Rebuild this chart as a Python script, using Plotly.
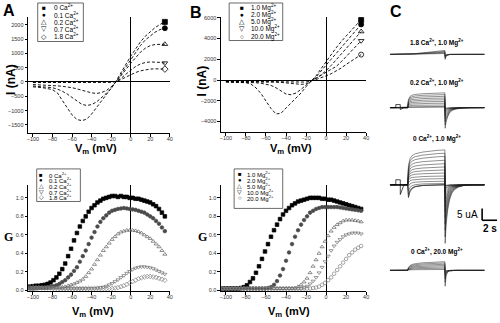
import plotly.graph_objects as go

W, H = 500, 323
def px(x): return x / W
def py(y): return 1 - y / H

# ---------------- Panel A: I-V, Ca series ----------------
A_V = [-100, -95, -90, -85, -80, -75, -70, -65, -60, -55, -50, -45, -40, -35, -30,
       -25, -20, -15, -10, -5, 0, 5, 10, 15, 20, 25, 30, 35]
A_names = ["0 Ca<sup>2+</sup>", "0.1 Ca<sup>2+</sup>", "0.2 Ca<sup>2+</sup>", "0.7 Ca<sup>2+</sup>", "1.8 Ca<sup>2+</sup>"]
A_ca0 = [-170, -180, -200, -230, -270, -380, -620, -900, -1150, -1310, -1350, -1300, -1120, -900, -650,
         -420, -220, 30, 330, 620, 900, 1150, 1400, 1600, 1750, 1900, 2010, 2100]
A_ca01 = [-140, -150, -160, -175, -200, -250, -320, -420, -550, -680, -780, -820, -790, -700, -560,
          -400, -230, 0, 250, 520, 780, 1030, 1270, 1470, 1620, 1740, 1830, 1880]
A_ca02 = [-90, -95, -100, -110, -120, -135, -150, -170, -200, -240, -290, -340, -380, -400, -370,
          -300, -170, 0, 200, 430, 650, 860, 1040, 1180, 1270, 1310, 1320, 1320]
A_ca07 = [-20, -20, -20, -20, -20, -20, -20, -20, -20, -20, -20, -20, -20, -20, -20,
          -15, -10, 20, 120, 270, 420, 540, 630, 680, 700, 700, 685, 660]
A_ca18 = [-10, -10, -10, -10, -10, -10, -10, -10, -10, -10, -10, -10, -10, -10, -10,
          -5, 0, 20, 80, 170, 260, 330, 390, 430, 450, 460, 460, 450]
A_series = [A_ca0, A_ca01, A_ca02, A_ca07, A_ca18]

# ---------------- Panel B: I-V, Mg series ----------------
B_V = A_V
B_names = ["1.0 Mg<sup>2+</sup>", "2.0 Mg<sup>2+</sup>", "5.0 Mg<sup>2+</sup>", "10.0 Mg<sup>2+</sup>", "20.0 Mg<sup>2+</sup>"]
B_mg1 = [-190, -200, -210, -230, -260, -400, -760, -1300, -2000, -2750, -3270, -3200, -2700, -2200, -1800,
         -1250, -650, -120, 400, 1100, 1800, 2450, 3100, 3700, 4250, 4800, 5300, 5780]
B_mg2 = [-190, -190, -200, -200, -210, -230, -260, -310, -380, -520, -750, -1050, -1350, -1420, -1250,
         -900, -450, -80, 300, 900, 1500, 2000, 2550, 3150, 3700, 4250, 4800, 5360]
B_mg5 = [-150, -150, -150, -150, -150, -155, -160, -165, -170, -180, -200, -230, -270, -320, -380,
         -420, -380, -150, 150, 500, 900, 1400, 1950, 2500, 3050, 3600, 4130, 4670]
B_mg10 = [-130, -130, -130, -130, -130, -130, -135, -135, -140, -140, -145, -150, -160, -170, -190,
          -200, -200, -80, 150, 450, 750, 1000, 1300, 1750, 2250, 2800, 3300, 3780]
B_mg20 = [-100, -100, -100, -100, -100, -100, -100, -100, -105, -105, -105, -110, -110, -115, -120,
          -120, -120, -50, 50, 200, 400, 600, 850, 1150, 1500, 1800, 2130, 2450]
B_series = [B_mg1, B_mg2, B_mg5, B_mg10, B_mg20]

# ---------------- Panels D/E: G-V ----------------
G_V = [-103, -100, -97, -94, -91, -88, -85, -82, -79, -76, -73, -70, -67, -64, -61, -58,
       -55, -52, -49, -46, -43, -40, -37, -34, -31, -28, -25, -22, -19, -16, -13, -10,
       -7, -4, -1, 2, 5, 8, 11, 14, 17, 20, 23, 26, 29, 32, 35]
D_ca0 = [0.04, 0.045, 0.05, 0.05, 0.055, 0.06, 0.07, 0.085, 0.11, 0.14, 0.18, 0.23, 0.29, 0.37, 0.45, 0.54,
         0.62, 0.69, 0.75, 0.80, 0.85, 0.89, 0.92, 0.95, 0.97, 0.99, 1.0, 1.01, 1.02, 1.02, 1.01, 1.02,
         1.01, 1.01, 1.0, 1.0, 0.99, 0.99, 0.98, 0.97, 0.96, 0.95, 0.93, 0.91, 0.88, 0.84, 0.80]
D_ca01 = [0.02, 0.02, 0.025, 0.025, 0.03, 0.03, 0.035, 0.04, 0.045, 0.055, 0.07, 0.09, 0.11, 0.14, 0.17, 0.21,
          0.25, 0.31, 0.37, 0.43, 0.50, 0.57, 0.63, 0.69, 0.74, 0.78, 0.81, 0.84, 0.86, 0.87, 0.88, 0.885,
          0.89, 0.885, 0.88, 0.875, 0.87, 0.86, 0.85, 0.84, 0.82, 0.80, 0.78, 0.75, 0.72, 0.68, 0.64]
D_ca02 = [0.015, 0.015, 0.015, 0.02, 0.02, 0.02, 0.02, 0.025, 0.025, 0.03, 0.03, 0.035, 0.04, 0.05, 0.06, 0.07,
          0.085, 0.10, 0.12, 0.15, 0.19, 0.23, 0.28, 0.33, 0.38, 0.43, 0.47, 0.51, 0.55, 0.58, 0.61, 0.63,
          0.64, 0.65, 0.65, 0.65, 0.645, 0.635, 0.62, 0.60, 0.58, 0.56, 0.53, 0.50, 0.47, 0.43, 0.39]
D_ca07 = [0.03, 0.03, 0.03, 0.03, 0.03, 0.025, 0.025, 0.025, 0.025, 0.025, 0.02, 0.02, 0.02, 0.02, 0.02, 0.02,
          0.02, 0.02, 0.02, 0.02, 0.02, 0.02, 0.02, 0.025, 0.03, 0.035, 0.045, 0.06, 0.075, 0.095, 0.115, 0.14,
          0.16, 0.185, 0.205, 0.225, 0.24, 0.25, 0.255, 0.255, 0.25, 0.245, 0.235, 0.22, 0.205, 0.19, 0.175]
D_ca18 = [0.03, 0.03, 0.03, 0.03, 0.025, 0.025, 0.025, 0.025, 0.02, 0.02, 0.02, 0.02, 0.02, 0.02, 0.02, 0.02,
          0.02, 0.02, 0.02, 0.02, 0.02, 0.02, 0.02, 0.02, 0.02, 0.02, 0.02, 0.02, 0.02, 0.025, 0.03, 0.04,
          0.05, 0.065, 0.08, 0.095, 0.11, 0.125, 0.135, 0.145, 0.15, 0.15, 0.145, 0.14, 0.13, 0.12, 0.11]
D_series = [D_ca0, D_ca01, D_ca02, D_ca07, D_ca18]

E_mg1 = [0.02, 0.02, 0.02, 0.02, 0.02, 0.02, 0.025, 0.035, 0.055, 0.09, 0.13, 0.19, 0.26, 0.34, 0.42, 0.50,
         0.58, 0.65, 0.71, 0.77, 0.82, 0.86, 0.89, 0.92, 0.94, 0.96, 0.97, 0.98, 0.99, 1.0, 1.0, 1.0,
         1.0, 0.99, 0.99, 0.98, 0.98, 0.97, 0.96, 0.95, 0.94, 0.93, 0.92, 0.91, 0.90, 0.89, 0.88]
E_mg2 = [0.02, 0.02, 0.02, 0.02, 0.02, 0.02, 0.02, 0.02, 0.02, 0.02, 0.02, 0.02, 0.02, 0.02, 0.02, 0.025,
         0.035, 0.06, 0.10, 0.16, 0.23, 0.32, 0.41, 0.50, 0.58, 0.65, 0.71, 0.76, 0.80, 0.84, 0.86, 0.88,
         0.89, 0.90, 0.90, 0.90, 0.90, 0.90, 0.90, 0.895, 0.89, 0.885, 0.88, 0.875, 0.87, 0.865, 0.86]
E_mg5 = [0.02, 0.02, 0.02, 0.02, 0.02, 0.02, 0.02, 0.02, 0.02, 0.02, 0.02, 0.02, 0.02, 0.02, 0.02, 0.02,
         0.02, 0.02, 0.02, 0.02, 0.02, 0.02, 0.02, 0.02, 0.025, 0.04, 0.06, 0.09, 0.13, 0.19, 0.26, 0.33,
         0.40, 0.47, 0.53, 0.59, 0.64, 0.68, 0.71, 0.73, 0.75, 0.76, 0.76, 0.76, 0.755, 0.75, 0.74]
E_mg10 = [0.02, 0.02, 0.02, 0.02, 0.02, 0.02, 0.02, 0.02, 0.02, 0.02, 0.02, 0.02, 0.02, 0.02, 0.02, 0.02,
          0.02, 0.02, 0.02, 0.02, 0.02, 0.02, 0.02, 0.02, 0.02, 0.02, 0.02, 0.03, 0.045, 0.07, 0.10, 0.14,
          0.19, 0.25, 0.31, 0.37, 0.43, 0.48, 0.52, 0.55, 0.58, 0.60, 0.61, 0.62, 0.62, 0.62, 0.61]
E_mg20 = [0.02, 0.02, 0.02, 0.02, 0.02, 0.02, 0.02, 0.02, 0.02, 0.02, 0.02, 0.02, 0.02, 0.02, 0.02, 0.02,
          0.02, 0.02, 0.02, 0.02, 0.02, 0.02, 0.02, 0.02, 0.02, 0.02, 0.02, 0.02, 0.02, 0.02, 0.025, 0.03,
          0.04, 0.06, 0.08, 0.11, 0.14, 0.18, 0.22, 0.26, 0.30, 0.34, 0.38, 0.41, 0.44, 0.46, 0.48]
E_series = [E_mg1, E_mg2, E_mg5, E_mg10, E_mg20]

# ---------------- Panel C: current traces ----------------
RISE_T = [0.0, 0.1, 0.3, 0.6, 1.0, 2.0, 3.0, 4.0, 5.0]
RISE_FAST = [0, 0.55, 0.75, 0.84, 0.89, 0.94, 0.97, 0.99, 1.0]
RISE_SLOW = [0, 0.35, 0.55, 0.68, 0.77, 0.87, 0.93, 0.97, 1.0]
RISE_RAMP = [0, 0.02, 0.06, 0.12, 0.2, 0.4, 0.6, 0.8, 1.0]
DIP_F = [0, 1.0, 0.55, 0.3, 0.16, 0.06, 0.03, 0.01, 0]
TAIL_T = [0.0, 0.03, 0.15, 0.35, 0.6, 0.9, 1.3, 1.8, 2.5, 3.5]
TAIL_SLOW = [0, 1.0, 0.7, 0.45, 0.27, 0.15, 0.08, 0.04, 0.015, 0]
TAIL_FAST = [0, 1.0, 0.35, 0.12, 0.04, 0.01, 0, 0, 0, 0]
C_groups = [
    dict(label="1.8 Ca<sup>2+</sup>, 1.0 Mg<sup>2+</sup>", base=-24.1, rise=RISE_RAMP, tail=TAIL_FAST,
         amps=[1.8, 1.4, 1.0, 0.7, 0.4], dips=[0, 0, 0, 0, 0], tails=[2.3, 1.8, 1.3, 0.9, 0.5]),
    dict(label="0.2 Ca<sup>2+</sup>, 1.0 Mg<sup>2+</sup>", base=-48.6, rise=RISE_FAST, tail=TAIL_SLOW,
         amps=[6.8, 6.0, 5.2, 4.4, 3.6, 2.8, 2.0, 1.2, 0.5, 0.2], dips=[0] * 10,
         tails=[9.5, 8.0, 6.5, 5.2, 4.0, 3.0, 2.0, 1.2, 0.6, 0.3]),
    dict(label="0 Ca<sup>2+</sup>, 1.0 Mg<sup>2+</sup>", base=-84.1, rise=RISE_FAST, tail=TAIL_SLOW,
         amps=[16, 14.5, 13, 11.3, 9.7, 8.2, 6.8, 5.4, 4.0, 2.8, 1.6, 0.6, 0, 0, 0],
         dips=[0, 0, 0, 0, 0, 0, 0, 0, 0, 0.5, 1.5, 3, 4.5, 5.5, 6],
         tails=[27, 24, 21, 18, 15, 12.5, 10, 8, 6, 4.5, 3, 2, 1, 0.5, 0.3]),
    dict(label="0 Ca<sup>2+</sup>, 20.0 Mg<sup>2+</sup>", base=-123.5, rise=RISE_SLOW, tail=TAIL_FAST,
         amps=[4.0, 3.4, 2.8, 2.2, 1.6, 1.0, 0.4], dips=[0] * 7,
         tails=[7.3, 5.5, 4.0, 2.8, 1.8, 1.0, 0.4]),
]
PRE_T = [0.15, 0.8, 0.8, 1.4, 1.4, 1.9, 2.4]
PRE_G2 = [0, 0, 1.4, 1.4, -0.9, 0, 0]
PRE_G3 = [0, 0, 2.3, 2.3, -4.5, 0, 0]
T_ON, T_OFF, T_END = 2.4, 7.4, 12.7

# ---------------- styling ----------------
SYM_A = ["square", "circle", "triangle-up-open", "triangle-down-open", "diamond-open"]
SYM_B = ["square", "circle", "triangle-up-open", "triangle-down-open", "circle-open"]
GRAYS = ["#000000", "#4a4a4a", "#5e5e5e", "#6e6e6e", "#808080"]
GLYPH_A = ["■", "●", "△", "▽", "◇"]
GLYPH_B = ["■", "●", "△", "▽", "○"]
FONT = "Liberation Sans, Arial, sans-serif"

fig = go.Figure()

def add_iv(xaxis, yaxis, V, series, syms):
    for s, sym in zip(series, syms):
        fig.add_trace(go.Scatter(x=V, y=s, mode="lines", xaxis=xaxis, yaxis=yaxis,
                                 line=dict(color="black", width=0.9, dash="3px,2px"),
                                 showlegend=False, hoverinfo="skip"))
        fig.add_trace(go.Scatter(x=[V[-1]], y=[s[-1]], mode="markers", xaxis=xaxis, yaxis=yaxis,
                                 marker=dict(symbol=sym, size=5, color="black",
                                             line=dict(color="black", width=0.8)),
                                 showlegend=False, hoverinfo="skip"))

def add_gv(xaxis, yaxis, V, series, syms):
    for s, sym, c in zip(series, syms, GRAYS):
        fig.add_trace(go.Scatter(x=V, y=s, mode="markers", xaxis=xaxis, yaxis=yaxis,
                                 marker=dict(symbol=sym, size=3.6, color=c, line=dict(color=c, width=0.7)),
                                 showlegend=False, hoverinfo="skip"))

add_iv("x", "y", A_V, A_series, SYM_A)
add_iv("x2", "y2", B_V, B_series, SYM_B)
add_gv("x3", "y3", G_V, D_series, SYM_A)
add_gv("x4", "y4", G_V, E_series, SYM_B)

# panel C traces
for g in C_groups:
    for a, d, tl in zip(g["amps"], g["dips"], g["tails"]):
        t = [0.0, T_ON] + [T_ON + r for r in RISE_T] + [T_OFF + r for r in TAIL_T] + [T_END]
        v = [0.0, 0.0] + [a * rf - d * df for rf, df in zip(g["rise"], DIP_F)] \
            + [-tl * tf for tf in g["tail"]] + [0.0]
        fig.add_trace(go.Scatter(x=t, y=[g["base"] + vv for vv in v], mode="lines",
                                 xaxis="x5", yaxis="y5", line=dict(color="#222", width=0.5),
                                 showlegend=False, hoverinfo="skip"))
for pre, base in [(PRE_G2, C_groups[1]["base"]), (PRE_G3, C_groups[2]["base"])]:
    fig.add_trace(go.Scatter(x=PRE_T, y=[base + p for p in pre], mode="lines", xaxis="x5", yaxis="y5",
                             line=dict(color="black", width=0.7), showlegend=False, hoverinfo="skip"))

tickfont = dict(family=FONT, size=5.5, color="#333")
axis_common = dict(showline=True, linecolor="black", linewidth=1, ticks="outside", ticklen=2.5,
                   tickwidth=1, tickcolor="black", showgrid=False, tickfont=tickfont, mirror=False)
XT = [-100, -80, -60, -40, -20, 0, 20, 40]

layout = dict(
    width=W, height=H, margin=dict(l=0, r=0, t=0, b=0), paper_bgcolor="white", plot_bgcolor="white",
    showlegend=False, font=dict(family=FONT),
    xaxis=dict(domain=[px(27.3), px(170.1)], range=[-105, 40], anchor="y", tickvals=XT,
               ticklabelstandoff=-2,
               zeroline=True, zerolinecolor="black", zerolinewidth=1, **axis_common),
    yaxis=dict(domain=[py(132.7), py(15)], range=[-1784, 2277], anchor="x",
               tickvals=[-1500, -1000, -500, 0, 500, 1000, 1500, 2000],
               zeroline=True, zerolinecolor="black", zerolinewidth=1, **axis_common),
    xaxis2=dict(domain=[px(221.7), px(368.1)], range=[-105, 40], anchor="y2", tickvals=XT,
                ticklabelstandoff=-2,
                zeroline=True, zerolinecolor="black", zerolinewidth=1, **axis_common),
    yaxis2=dict(domain=[py(131.7), py(15)], range=[-5017, 6093], anchor="x2",
                tickvals=[-4000, -2000, 0, 2000, 4000, 6000],
                zeroline=True, zerolinecolor="black", zerolinewidth=1, **axis_common),
    xaxis3=dict(domain=[px(27.3), px(170.1)], range=[-105, 40], anchor="y3", tickvals=XT,
                ticklabelstandoff=-2,
                zeroline=True, zerolinecolor="black", zerolinewidth=1, **axis_common),
    yaxis3=dict(domain=[py(293), py(185)], range=[-0.011, 1.142], anchor="x3",
                tickvals=[0, 0.2, 0.4, 0.6, 0.8, 1.0], tickformat=".1f", zeroline=False, **axis_common),
    xaxis4=dict(domain=[px(221.7), px(368.1)], range=[-105, 40], anchor="y4", tickvals=XT,
                ticklabelstandoff=-2,
                zeroline=True, zerolinecolor="black", zerolinewidth=1, **axis_common),
    yaxis4=dict(domain=[py(293), py(185)], range=[-0.011, 1.142], anchor="x4",
                tickvals=[0, 0.2, 0.4, 0.6, 0.8, 1.0], tickformat=".1f", zeroline=False, **axis_common),
    xaxis5=dict(domain=[px(392), px(500)], range=[0, 14.4], anchor="y5", visible=False),
    yaxis5=dict(domain=[0, 1], range=[-146.8, 0], anchor="x5", visible=False),
)
fig.update_layout(**layout)

ann = []
def text(x, y, s, size=7, bold=False, angle=0, xanchor="center", family=FONT, color="black"):
    ann.append(dict(x=px(x), y=py(y), xref="paper", yref="paper", text=("<b>%s</b>" % s) if bold else s,
                    showarrow=False, xanchor=xanchor, yanchor="middle", textangle=angle,
                    font=dict(family=family, size=size, color=color)))

# panel letters
text(8, 9, "A", 16, True)
text(197, 11, "B", 16, True)
text(398, 10, "C", 16, True)
# axis titles
text(10, 78, "I (nA)", 12, True, angle=-90)
text(203, 80, "I (nA)", 12, True, angle=-90)
text(96, 149, "V<sub>m</sub> (mV)", 11, True)
text(292, 149, "V<sub>m</sub> (mV)", 11, True)
text(8, 238, "G", 12, True, family="Liberation Serif, Times New Roman, serif")
text(203, 238, "G", 12, True, family="Liberation Serif, Times New Roman, serif")
text(93, 314, "V<sub>m</sub> (mV)", 11, True)
text(290, 314, "V<sub>m</sub> (mV)", 11, True)

shapes = []
def box(x0, y0, x1, y1):
    shapes.append(dict(type="rect", xref="paper", yref="paper", x0=px(x0), x1=px(x1), y0=py(y1), y1=py(y0),
                       line=dict(color="#444", width=0.8), fillcolor="rgba(0,0,0,0)"))

def legend(x0, y0, x1, y1, ys, mx, tx, glyphs, names, size=6.5):
    box(x0, y0, x1, y1)
    for yy, gph, nm in zip(ys, glyphs, names):
        text(mx, yy, gph, size, False)
        text(tx, yy, nm, size, False, xanchor="left")

legend(37, 1, 83, 40, [5.5, 12.7, 20, 27.3, 34.5], 43.5, 51, GLYPH_A, A_names)
legend(230, 1, 284, 39, [5.5, 12.7, 20, 27.3, 34.5], 243, 250, GLYPH_B, B_names)
legend(36, 169, 80, 202, [175, 180.7, 186.5, 192.3, 197.7], 40.5, 46, GLYPH_A, A_names, 6)
legend(235, 169, 284, 209, [174, 180, 186, 192.3, 198.3], 240.5, 246, GLYPH_B, B_names, 6)

# panel C labels & scale bar
for g, yy in zip(C_groups, [41, 82, 138, 253]):
    text(440, yy, g["label"], 6.5, True)
text(470, 215, "5 uA", 10, False)
text(493, 229, "2 s", 10, True)
shapes.append(dict(type="line", xref="paper", yref="paper", x0=px(485), x1=px(485), y0=py(209), y1=py(221),
                   line=dict(color="black", width=1.6)))
shapes.append(dict(type="line", xref="paper", yref="paper", x0=px(485), x1=px(500), y0=py(221), y1=py(221),
                   line=dict(color="black", width=1.6)))

fig.update_layout(annotations=ann, shapes=shapes)
fig.write_html("out.html")
